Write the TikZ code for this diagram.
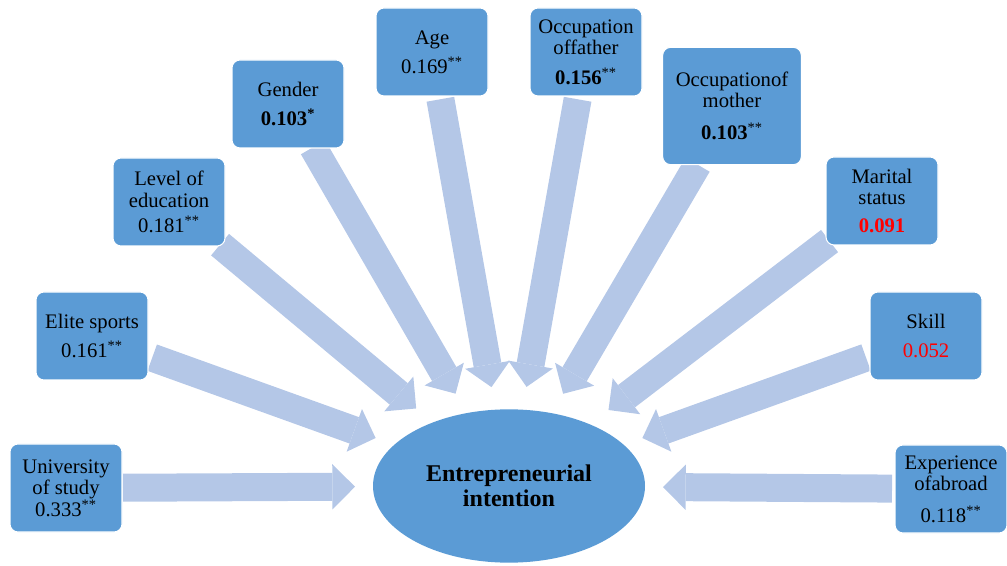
\documentclass[tikz,border=0pt]{standalone}
\usepackage{fontspec}
\setmainfont{Liberation Serif}
\usetikzlibrary{shapes.geometric, arrows.meta, backgrounds}
\definecolor{boxblue}{HTML}{5B9BD5}
\definecolor{arrowblue}{HTML}{B4C7E7}
\tikzstyle{factor} = [rectangle, rounded corners=6pt, minimum width=84pt, minimum height=66pt, text centered, align=center, draw=white, line width=0.8pt, fill=boxblue, font=\fontsize{15.5}{16}\selectfont]
\tikzstyle{target} = [ellipse, minimum width=204pt, minimum height=115pt, fill=boxblue, align=center, font=\fontsize{18}{19}\selectfont\bfseries]
\tikzstyle{arrow} = [line width=21pt, draw=arrowblue, -{Triangle[width=34pt, length=17pt, line width=0pt]}]

\begin{document}
\begin{tikzpicture}[x=0.75pt, y=-0.75pt]
\useasboundingbox (0,0) rectangle (1007,566);
\node (ent) [target] at (509,486) {Entrepreneurial\\intention};
\node (uni) [factor] at (66,488) {University\\of study\\0.333\textsuperscript{**}};
\node (elite) [factor] at (92,336) {Elite sports\\[6pt]0.161\textsuperscript{**}};
\node (level) [factor] at (169,202) {Level of\\education\\[3pt]0.181\textsuperscript{**}};
\node (gender) [factor] at (288,104) {Gender\\[6pt]\textbf{0.103\textsuperscript{*}}};
\node (age) [factor] at (432,52) {Age\\[6pt]0.169\textsuperscript{**}};
\node (father) [factor] at (586,52) {Occupation\\offather\\[6pt]\textbf{0.156}\textsuperscript{**}};
\node (mother) [factor, minimum width=104pt, minimum height=88pt] at (732,106) {Occupationof\\mother\\[8pt]\textbf{0.103}\textsuperscript{**}};
\node (marital) [factor] at (882,201) {Marital\\status\\[5pt]\textcolor{red}{\textbf{0.091}}};
\node (skill) [factor] at (926,336) {Skill\\[6pt]\textcolor{red}{0.052}};
\node (abroad) [factor] at (951,489) {Experience\\ofabroad\\[8pt]0.118\textsuperscript{**}};

% block arrows into the ellipse
\begin{pgfonlayer}{background}
\draw [arrow, shorten <=42.75pt, shorten >=115.5pt] (uni.center) -- (ent.center);
\draw [arrow, shorten <=48pt, shorten >=106.3pt] (elite.center) -- (ent.center);
\draw [arrow, shorten <=49.9pt, shorten >=90.7pt] (level.center) -- (ent.center);
\draw [arrow, shorten <=37.5pt, shorten >=80pt] (gender.center) -- (ent.center);
\draw [arrow, shorten <=36pt, shorten >=75.3pt] (age.center) -- (ent.center);
\draw [arrow, shorten <=36pt, shorten >=75.5pt] (father.center) -- (ent.center);
\draw [arrow, shorten <=51pt, shorten >=80.2pt] (mother.center) -- (ent.center);
\draw [arrow, shorten <=49.5pt, shorten >=93.9pt] (marital.center) -- (ent.center);
\draw [arrow, shorten <=47.8pt, shorten >=106.3pt] (skill.center) -- (ent.center);
\draw [arrow, shorten <=44.25pt, shorten >=115.5pt] (abroad.center) -- (ent.center);
\end{pgfonlayer}
\end{tikzpicture}
\end{document}
